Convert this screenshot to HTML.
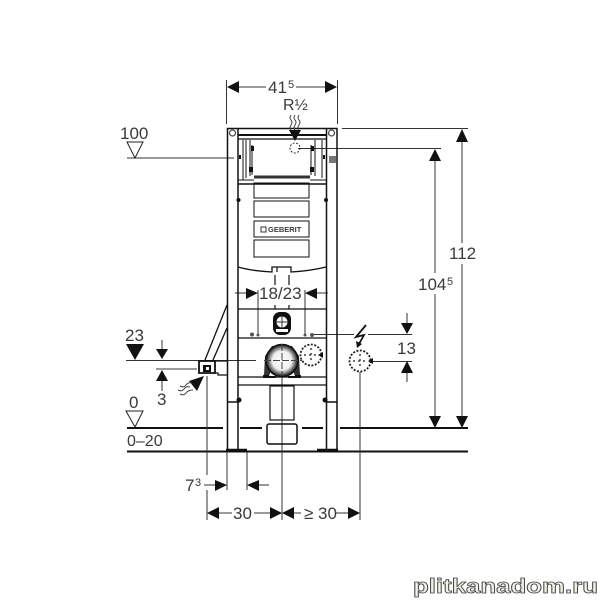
<!DOCTYPE html>
<html><head><meta charset="utf-8"><style>html,body{margin:0;padding:0;background:#fff}svg{display:block}text{font-family:"Liberation Sans",sans-serif;font-size:17px;fill:#3a3a3a}
.w{font-family:"Liberation Sans",sans-serif;font-size:20px;font-weight:bold;fill:#f1f1e6;stroke:#444;stroke-width:.8px}</style></head><body>
<svg width="600" height="600" viewBox="0 0 600 600" xmlns="http://www.w3.org/2000/svg">
<defs><radialGradient id="p"><stop offset="0" stop-color="#fff"/><stop offset=".6" stop-color="#eee"/><stop offset=".82" stop-color="#777"/><stop offset="1" stop-color="#111"/></radialGradient></defs>
<rect width="600" height="600" fill="#fff"/>
<!-- floors -->
<g stroke="#111" stroke-width="2" fill="none">
<path d="M127 428H223M240 428H262M302 428H323M340 428H468"/>
<path d="M127 451.500H468"/>
</g>
<!-- thin dimension lines -->
<g stroke="#333" stroke-width="1" fill="none">
<path d="M226.500 80V124M337.500 80V124M238 87H266M296 87H325"/>
<path d="M127 158H234M342 128.500H468M298 148.500H441"/>
<path d="M462 135V243M462 264V428M435 155V273M435 294V428"/>
<path d="M126 360.500H256M156 369H197"/>
<path d="M162 340V350M162 381V391"/>
<path d="M207 376V475M207 490V520M360 372V520M282 345V520"/>
<path d="M227 452V490M247 452V490M204 485H216M258 485H269"/>
<path d="M217 513H232M254 513H271M293 513H301M335 513H349"/>
<path d="M312 334.500H354M368 334.500H412M372 361.500H412M407 313V323M407 373V382"/>
<path d="M258 290V335M305 290V335"/>
<path d="M235 293H247M316 293H328"/>
</g>
<!-- arrowheads -->
<g fill="#111">
<path d="M227 87L239 81V93ZM337 87L325 81V93Z"/>
<path d="M462 129L456 142H468ZM435 149L429 161H441Z"/>
<path d="M435 428L429 416H441ZM462 428L456 416H468Z"/>
<path d="M295 141L289 130H301Z"/>
<path d="M258 293L246 288V299ZM305 293L317 288V299Z"/>
<path d="M407 334L401 323H413ZM407 361L401 373H413Z"/>
<path d="M162 359L156 349H168ZM162 370L156 381H168Z"/>
<path d="M135 360L126 344H144Z"/>
<path d="M227 485L215 480V491ZM247 485L259 480V491Z"/>
<path d="M207 513L219 507V519ZM282 513L270 507V519ZM282 513L294 507V519ZM360 513L348 507V519Z"/>
<path d="M204 376L189 381L197 391Z"/>
<path d="M357 348L356 341L362 344Z"/>
</g>
<path d="M366 325L356 337L364 335L359 344" fill="none" stroke="#111" stroke-width="1.800"/>
<!-- level triangles -->
<g fill="#fff" stroke="#222" stroke-width="1">
<path d="M127 142H143L135 158Z"/>
<path d="M126 411H143L135 427Z"/>
</g>
<!-- frame -->
<g fill="none" stroke="#111" stroke-width="1.500">
<path d="M227.500 449V128.500H337V449"/>
<path d="M238 129V449M326.500 129V449"/>
<path d="M227 402H238M326 402H337" stroke-width="1.500"/>
<path d="M226 450H247M317 450H338" stroke-width="2.500"/>
<path d="M238 135H326" stroke-width="2"/>
<path d="M238 139H326" stroke-width="1.200"/>
<path d="M246 140V178M250 140V176M315 140V176M322 140V178M243 140V180" stroke-width="1"/>
<path d="M238 180H254M310 180H326" stroke-width="1"/>
<path d="M252 145V175M311 145V175" stroke-width="1"/>
<path d="M254 177H310" stroke-width="3" stroke="#333"/>
<path d="M238 184H326" stroke-width="1.500"/>
<rect x="254" y="183" width="55" height="15" stroke-width="1"/>
<rect x="254" y="201" width="55" height="16" stroke-width="1"/>
<rect x="254" y="221" width="55" height="16" stroke-width="1"/>
<rect x="254" y="240" width="55" height="17" stroke-width="1"/>
<path d="M238 267Q252 271 272 272V267H291V272Q310 271 326 267" stroke-width="1.300"/>
<path d="M277 272V267M275 275V285M289 275V285M275 305V309M289 305V309" stroke-width="1.200"/>
<path d="M238 309H326M238 338H326M238 377H326M238 385H326" stroke-width="1.300"/>
<path d="M227 305L205 360M227 328L213 360" stroke-width="1.300"/>
<path d="M199 361H215V373H199Z" stroke-width="1.800"/>
<path d="M215 361H227M215 373H218V375H227" stroke-width="1.200"/>
<rect x="270" y="386" width="24" height="34" stroke-width="1.200"/>
<rect x="267" y="424" width="30" height="20" rx="2" stroke-width="1.500"/>
</g>
<rect x="203" y="365" width="8" height="7" fill="#111"/>
<rect x="206" y="367" width="3" height="3" fill="#fff"/>
<!-- top dashed connection -->
<circle cx="295" cy="148" r="5" fill="none" stroke="#333" stroke-width="1" stroke-dasharray="2 1.500"/>
<!-- corner bolts -->
<g fill="none" stroke="#444" stroke-width="1.200">
<circle cx="232.500" cy="133" r="3"/><circle cx="331.500" cy="133" r="3"/>
</g>
<rect x="329" y="156" width="7" height="7" fill="#777"/>
<g fill="#111">
<circle cx="238.500" cy="200" r="2"/><circle cx="326" cy="200" r="2"/><circle cx="239" cy="400" r="2.500"/><circle cx="325" cy="400" r="2.500"/>
<rect x="251" y="146" width="3" height="5"/><rect x="311" y="146" width="3" height="5"/><rect x="249" y="167" width="4" height="5"/><rect x="310" y="167" width="4" height="5"/>
<rect x="239" y="155" width="2" height="4"/><rect x="323" y="155" width="2" height="4"/>
<rect x="273" y="312" width="18" height="23" rx="7"/>
<rect x="263" y="375" width="13" height="3"/><rect x="288" y="375" width="13" height="3"/>
</g>
<circle cx="282" cy="322" r="6" fill="#fff" stroke="#111"/>
<rect x="276" y="329" width="12" height="3" fill="#fff"/>
<path d="M276 322H288M282 316V328" stroke="#333" stroke-width="1"/>
<!-- pipe -->
<path d="M265 356L272 346H292L299 356L300 375H264Z" fill="#333"/>
<path d="M269 376L272 368H292L295 376Z" fill="#fff"/>
<circle cx="282" cy="360.500" r="16" fill="url(#p)" stroke="#111" stroke-width="1.500"/>
<path d="M264 360.500H302M282 344V376" stroke="#444" stroke-width="1" stroke-dasharray="7 2"/>
<!-- small dots -->
<g fill="#555"><circle cx="252" cy="334.500" r="2"/><circle cx="258" cy="335" r="1.500"/><circle cx="305" cy="335" r="1.500"/><circle cx="312" cy="335" r="2"/></g>
<!-- dashed circles -->
<g fill="none" stroke="#222" stroke-width="1.800" stroke-dasharray="2 1.500">
<circle cx="311" cy="355" r="10.500"/><circle cx="360" cy="361" r="10.500"/>
</g>
<g stroke="#444" stroke-width="1.500" stroke-dasharray="2 3"><path d="M304 355H318M311 348V362M353 361H367M360 354V368"/></g>
<path d="M323 352L318 355L323 358ZM373 358L368 361L373 364Z" fill="#111"/>
<!-- waves -->
<g fill="none" stroke="#444" stroke-width="1">
<path d="M291 115q-2 3 0 5t0 5q-2 3 0 5M295 115q-2 3 0 5t0 5q-2 3 0 5M299 115q-2 3 0 5t0 5q-2 3 0 5"/>
<path d="M180 386q4 2 6-1t6-2M178 390q4 2 6-1t6-2M180 394q4 2 6-1t7-3"/>
</g>
<!-- logo -->
<rect x="261" y="227" width="5" height="5" fill="none" stroke="#333"/>
<text x="268" y="232" style="font-size:7.500px;font-weight:bold">GEBERIT</text>
<!-- labels -->
<text x="268" y="93">41</text><text x="288" y="88" style="font-size:11px">5</text>
<text x="283" y="110" style="font-size:16px">R½</text>
<text x="120" y="139">100</text>
<text x="125" y="341">23</text>
<text x="157" y="405">3</text>
<text x="129" y="408">0</text>
<text x="127" y="446" style="font-size:16px">0–20</text>
<text x="259" y="299">18/23</text>
<text x="397" y="354">13</text>
<text x="418" y="290">104</text><text x="447" y="285" style="font-size:11px">5</text>
<text x="449" y="259">112</text>
<text x="185" y="491">7</text><text x="195" y="486" style="font-size:11px">3</text>
<text x="233" y="519">30</text>
<text x="304" y="519">≥ 30</text>
<text x="413" y="593" class="w" textLength="185" lengthAdjust="spacingAndGlyphs">plitkanadom.ru</text>
</svg></body></html>
